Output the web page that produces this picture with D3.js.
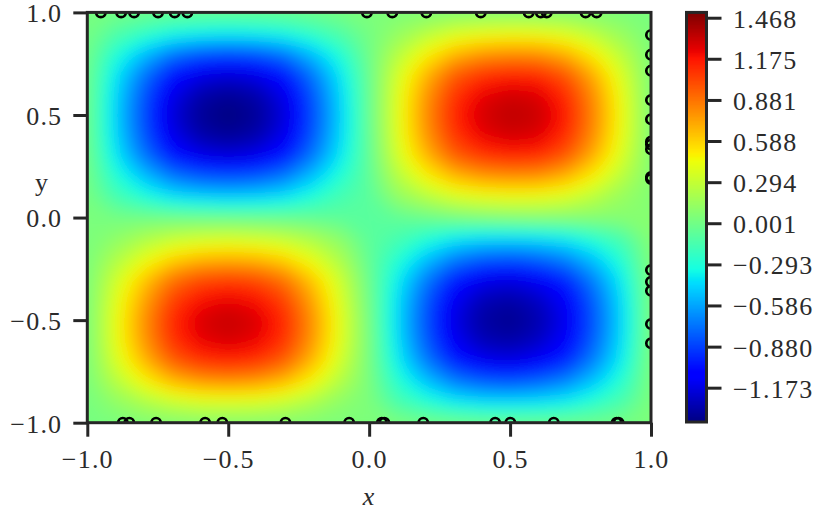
<!DOCTYPE html>
<html>
<head>
<meta charset="utf-8">
<script src="https://cdn.jsdelivr.net/npm/d3@7"></script>
<style>
  html, body { margin: 0; padding: 0; background: #fff; }
  svg { display: block; }
  text { font-family: "Liberation Serif", serif; font-size: 26px; fill: #2b2b2b; letter-spacing: 1.2px; }
</style>
</head>
<body>
<svg id="chart" width="831" height="514"></svg>
<script>
// tick labels
const xTicks = [-1, -0.5, 0, 0.5, 1];
const yTicks = [-1, -0.5, 0, 0.5, 1];
const colorTicks = [1.468, 1.175, 0.881, 0.588, 0.294, 0.001, -0.293, -0.586, -0.880, -1.173];
const colorDomain = [-1.418, 1.506];

// field, rows y = 1 -> -1, columns x = -1 -> 1, step 0.1
const field = [
  [.03,.02,0,-.02,-.03,-.03,-.03,-.02,0,.03,.05,.06,.06,.07,.07,.07,.07,.07,.06,.05,.04],
  [.02,-.11,-.21,-.30,-.34,-.36,-.34,-.30,-.21,-.11,.02,.13,.25,.36,.41,.43,.42,.37,.26,.14,.04],
  [.01,-.27,-.50,-.71,-.81,-.84,-.81,-.71,-.50,-.27,0,.25,.48,.67,.77,.80,.79,.69,.49,.26,.05],
  [0,-.38,-.71,-1.00,-1.14,-1.19,-1.14,-1.00,-.71,-.38,-.02,.35,.67,.95,1.08,1.13,1.11,.97,.69,.36,.05],
  [0,-.43,-.81,-1.14,-1.31,-1.36,-1.31,-1.14,-.81,-.43,-.03,.39,.77,1.08,1.24,1.30,1.27,1.11,.79,.41,.05],
  [0,-.45,-.84,-1.19,-1.36,-1.42,-1.36,-1.19,-.84,-.45,-.03,.40,.80,1.13,1.29,1.35,1.32,1.16,.82,.43,.05],
  [0,-.43,-.81,-1.14,-1.31,-1.36,-1.31,-1.14,-.81,-.43,-.04,.39,.77,1.08,1.24,1.30,1.27,1.11,.79,.41,.06],
  [.01,-.38,-.71,-1.00,-1.14,-1.19,-1.14,-1.00,-.71,-.38,-.05,.35,.67,.95,1.08,1.13,1.11,.97,.69,.36,.06],
  [.02,-.27,-.50,-.71,-.81,-.84,-.81,-.71,-.50,-.27,-.06,.25,.48,.67,.77,.80,.79,.69,.49,.26,.07],
  [.03,-.15,-.28,-.40,-.45,-.47,-.45,-.40,-.28,-.15,-.08,.13,.25,.36,.41,.43,.42,.37,.26,.14,.07],
  [.04,.02,.01,0,-.01,-.02,-.03,-.04,-.05,-.07,-.08,-.05,-.01,.03,.06,.08,.09,.09,.09,.09,.08],
  [.04,.11,.21,.29,.33,.35,.33,.29,.21,.10,-.07,-.14,-.26,-.37,-.42,-.43,-.41,-.36,-.25,-.13,.08],
  [.04,.22,.41,.58,.67,.69,.67,.58,.41,.21,-.05,-.26,-.49,-.69,-.79,-.82,-.77,-.67,-.48,-.25,.07],
  [.04,.33,.62,.88,1.01,1.05,1.01,.88,.62,.32,-.02,-.36,-.69,-.97,-1.12,-1.16,-1.09,-.95,-.67,-.35,.06],
  [.04,.39,.73,1.04,1.19,1.24,1.19,1.04,.73,.37,0,-.41,-.79,-1.11,-1.28,-1.32,-1.25,-1.08,-.77,-.40,.05],
  [.04,.42,.79,1.12,1.28,1.33,1.28,1.12,.79,.40,.02,-.43,-.82,-1.16,-1.33,-1.38,-1.30,-1.13,-.80,-.42,.05],
  [.04,.41,.77,1.09,1.24,1.29,1.24,1.09,.77,.39,.03,-.41,-.79,-1.11,-1.28,-1.32,-1.25,-1.08,-.77,-.40,.05],
  [.04,.36,.67,.95,1.09,1.13,1.09,.95,.67,.34,.03,-.36,-.69,-.97,-1.12,-1.16,-1.09,-.95,-.67,-.35,.05],
  [.04,.25,.47,.67,.77,.80,.77,.67,.47,.24,.04,-.26,-.49,-.69,-.79,-.82,-.77,-.67,-.48,-.25,.05],
  [.03,.12,.22,.31,.36,.37,.36,.31,.22,.11,.05,-.14,-.26,-.37,-.42,-.43,-.41,-.36,-.25,-.13,.05],
  [.03,.04,.06,.07,.08,.08,.08,.07,.06,.05,.05,.04,.02,0,-.01,-.02,-.02,-.01,0,.02,.05]
];

// sample points sitting on the box edges
const topX = [-0.952, -0.880, -0.834, -0.749, -0.690, -0.645, -0.008, 0.082, 0.203, 0.396, 0.566, 0.609, 0.630, 0.768, 0.807];
const bottomX = [-0.874, -0.851, -0.756, -0.582, -0.521, -0.297, -0.071, 0.045, 0.054, 0.192, 0.447, 0.501, 0.655, 0.878, 0.885];
const rightY = [0.890, 0.794, 0.716, 0.573, 0.479, 0.370, 0.356, 0.333, 0.198, 0.188, -0.256, -0.313, -0.357, -0.519, -0.613];

// jet
const jetR = d3.scaleLinear().domain([0.35, 0.66, 0.89, 1]).range([0, 1, 1, 0.5]).clamp(true);
const jetG = d3.scaleLinear().domain([0.125, 0.375, 0.64, 0.91]).range([0, 1, 1, 0]).clamp(true);
const jetB = d3.scaleLinear().domain([0, 0.11, 0.34, 0.65]).range([0.5, 1, 1, 0]).clamp(true);
const norm = d3.scaleLinear().domain(colorDomain).range([0, 1]);
const jet = v => {
    const t = norm(v);
    return d3.rgb(jetR(t) * 255, jetG(t) * 255, jetB(t) * 255).formatHex();
};

const box = { left: 87.3, right: 651, top: 12.4, bottom: 422.7 };
const bar = { left: 686.5, right: 706.5, top: 12.4, bottom: 422 };
const ink = "#262626";

const svg = d3.select("#chart");
const x = d3.scaleLinear().domain([-1, 1]).range([box.left, box.right]);
const y = d3.scaleLinear().domain([-1, 1]).range([box.bottom, box.top]);
const cy = d3.scaleLinear().domain(colorDomain).range([bar.bottom, bar.top]);

const defs = svg.append("defs");
defs.append("clipPath").attr("id", "plot").append("rect")
    .attr("x", box.left).attr("y", box.top)
    .attr("width", box.right - box.left).attr("height", box.bottom - box.top);
defs.append("filter").attr("id", "soft")
    .attr("filterUnits", "userSpaceOnUse")
    .attr("x", 0).attr("y", 0).attr("width", 831).attr("height", 514)
    .append("feGaussianBlur").attr("stdDeviation", 8);

// filled bands from the grid
const nRows = field.length, nCols = field[0].length;
const step = (colorDomain[1] - colorDomain[0]) / 512;
const levels = d3.range(colorDomain[0], colorDomain[1], step);
const bands = d3.contours().size([nCols, nRows]).thresholds(levels)(field.flat());
const gx = d3.scaleLinear().domain([0.5, nCols - 0.5]).range([box.left, box.right]);
const gy = d3.scaleLinear().domain([0.5, nRows - 0.5]).range([box.top, box.bottom]);
const gridPath = d3.geoPath(d3.geoTransform({
    point(px, py) { this.stream.point(gx(px), gy(py)); }
}));

const plot = svg.append("g").attr("clip-path", "url(#plot)");
plot.append("rect")
    .attr("x", box.left).attr("y", box.top)
    .attr("width", box.right - box.left).attr("height", box.bottom - box.top)
    .attr("fill", jet(0.03));
plot.append("g").attr("filter", "url(#soft)")
    .selectAll("path").data(bands).join("path")
    .attr("d", gridPath)
    .attr("fill", d => jet(d.value + step / 2));

// points, clipped at the box
const points = [
    ...topX.map(v => [v, 1]),
    ...bottomX.map(v => [v, -1]),
    ...rightY.map(v => [1, v])
];
plot.append("g").selectAll("circle").data(points).join("circle")
    .attr("cx", d => x(d[0]))
    .attr("cy", d => y(d[1]))
    .attr("r", 4.7)
    .attr("fill", "none")
    .attr("stroke", "#000")
    .attr("stroke-width", 2.7);

// axes
const fmt = d3.format(".1f");
const gBottom = svg.append("g")
    .attr("transform", `translate(0,${box.bottom})`)
    .call(d3.axisBottom(x).tickValues(xTicks).tickFormat(fmt).tickSize(14));
gBottom.selectAll("text").attr("y", 45.5).attr("dy", 0);

const gLeft = svg.append("g")
    .attr("transform", `translate(${box.left},0)`)
    .call(d3.axisLeft(y).tickValues(yTicks).tickFormat(fmt).tickSize(14));
gLeft.selectAll("text").attr("x", -25).attr("dy", "0.36em");

svg.append("rect")
    .attr("x", box.left).attr("y", box.top)
    .attr("width", box.right - box.left).attr("height", box.bottom - box.top)
    .attr("fill", "none").attr("stroke", ink).attr("stroke-width", 3);

// colorbar
svg.append("g").attr("shape-rendering", "crispEdges")
    .selectAll("rect").data(levels).join("rect")
    .attr("x", bar.left)
    .attr("width", bar.right - bar.left)
    .attr("y", d => cy(d + step))
    .attr("height", d => cy(d) - cy(d + step) + 1)
    .attr("fill", d => jet(d + step / 2));
svg.append("rect")
    .attr("x", bar.left).attr("y", bar.top)
    .attr("width", bar.right - bar.left).attr("height", bar.bottom - bar.top)
    .attr("fill", "none").attr("stroke", ink).attr("stroke-width", 3);
const gBar = svg.append("g")
    .attr("transform", `translate(${bar.right},0)`)
    .call(d3.axisRight(cy).tickValues(colorTicks).tickFormat(d3.format(".3f")).tickSize(15));
gBar.selectAll("text").attr("x", 26.5).attr("dy", "0.36em");

[gBottom, gLeft, gBar].forEach(g => {
    g.select(".domain").remove();
    g.selectAll("line").attr("stroke", ink).attr("stroke-width", 3);
    g.selectAll("text")
        .attr("font-family", null).attr("font-size", null).attr("fill", null);
});

// axis titles
svg.append("text").attr("x", 369).attr("y", 505)
    .attr("text-anchor", "middle").attr("font-style", "italic").text("x");
svg.append("text").attr("x", 42).attr("y", 191)
    .attr("text-anchor", "middle").text("y");
</script>
</body>
</html>
